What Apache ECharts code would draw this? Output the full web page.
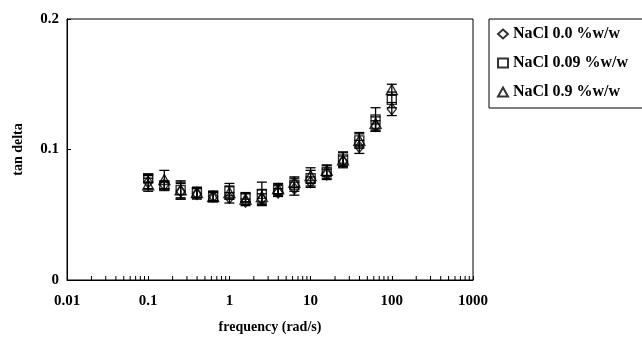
<!DOCTYPE html>
<html>
<head>
<meta charset="utf-8">
<script src="https://cdn.jsdelivr.net/npm/echarts@6/dist/echarts.min.js"></script>
<style>
html, body { margin: 0; padding: 0; background: #fff; }
#chart { width: 642px; height: 339px; }
</style>
</head>
<body>
<div id="chart"></div>
<script>
var freq = [0.1, 0.158, 0.251, 0.398, 0.631, 1, 1.58, 2.51, 3.98, 6.31, 10, 15.8, 25.1, 39.8, 63.1, 100];

var nacl00 = [0.075, 0.073, 0.068, 0.066, 0.064, 0.063, 0.060, 0.062, 0.067, 0.070, 0.075, 0.081, 0.091, 0.102, 0.118, 0.131];
var nacl009 = [0.078, 0.072, 0.069, 0.067, 0.064, 0.068, 0.063, 0.066, 0.069, 0.073, 0.078, 0.083, 0.093, 0.107, 0.123, 0.138];
var nacl09 = [0.073, 0.077, 0.069, 0.067, 0.064, 0.067, 0.062, 0.064, 0.070, 0.075, 0.080, 0.084, 0.092, 0.107, 0.120, 0.146];

// error bar half-widths
var err00 = [0.005, 0.003, 0.006, 0.004, 0.004, 0.004, 0.002, 0.004, 0.003, 0.005, 0.004, 0.004, 0.004, 0.005, 0.004, 0.005];
var err009 = [0.003, 0.003, 0.006, 0.004, 0.003, 0.006, 0.003, 0.009, 0.004, 0.005, 0.006, 0.005, 0.005, 0.005, 0.009, 0.006];
var err09 = [0.005, 0.007, 0.007, 0.004, 0.004, 0.005, 0.005, 0.005, 0.004, 0.004, 0.006, 0.004, 0.006, 0.006, 0.005, 0.004];

var xTickLabels = ['0.01', '0.1', '1', '10', '100', '1000'];
var names = ['NaCl 0.0 %w/w', 'NaCl 0.09 %w/w', 'NaCl 0.9 %w/w'];

var font = 'Liberation Serif';

// minor ticks 2..9 in each decade
var minorTicks = [];
for (var k = -2; k < 3; k++) {
	for (var m = 2; m < 10; m++) {
		minorTicks.push(m * Math.pow(10, k));
	}
}

function pairs(vals) {
	return freq.map(function (f, i) { return [f, vals[i]]; });
}
function bars(vals, errs) {
	return freq.map(function (f, i) { return [f, vals[i] - errs[i], vals[i] + errs[i]]; });
}

function renderErr(params, api) {
	var top = api.coord([api.value(0), api.value(2)]);
	var bot = api.coord([api.value(0), api.value(1)]);
	var w = 5;
	var st = { stroke: '#000', lineWidth: 1.3 };
	return {
		type: 'group',
		children: [
			{ type: 'line', shape: { x1: top[0], y1: top[1], x2: bot[0], y2: bot[1] }, style: st },
			{ type: 'line', shape: { x1: top[0] - w, y1: top[1], x2: top[0] + w, y2: top[1] }, style: st },
			{ type: 'line', shape: { x1: bot[0] - w, y1: bot[1], x2: bot[0] + w, y2: bot[1] }, style: st }
		]
	};
}

function renderMinor(params, api) {
	var p = api.coord([api.value(0), 0]);
	return {
		type: 'line',
		shape: { x1: p[0], y1: p[1], x2: p[0], y2: p[1] - 4 },
		style: { stroke: '#000', lineWidth: 1 }
	};
}

var markerStyle = { color: 'transparent', borderColor: '#000', borderWidth: 1.4 };

var chart = echarts.init(document.getElementById('chart'));

var option = {
	backgroundColor: '#fff',
	animation: false,
	grid: {
		left: 67, right: 169, top: 19, bottom: 56,
		show: true, borderColor: '#000', borderWidth: 1
	},
	legend: {
		orient: 'vertical',
		left: 489, top: 19,
		padding: [7, 30, 8, 8],
		itemGap: 13,
		itemWidth: 10, itemHeight: 9,
		borderColor: '#000', borderWidth: 1,
		data: names,
		textStyle: { fontFamily: font, fontWeight: 'bold', fontSize: 16, color: '#000' }
	},
	xAxis: {
		type: 'log',
		logBase: 10,
		min: 0.01, max: 1000,
		name: 'frequency (rad/s)',
		nameLocation: 'middle',
		nameGap: 40,
		nameTextStyle: { fontFamily: font, fontWeight: 'bold', fontSize: 14, color: '#000' },
		axisLine: { lineStyle: { color: '#000', width: 1 } },
		axisTick: { inside: true, length: 4, lineStyle: { color: '#000' } },
		splitLine: { show: false },
		axisLabel: {
			margin: 14,
			fontFamily: font, fontWeight: 'bold', fontSize: 15, color: '#000',
			formatter: function (v) {
				var i = Math.round(Math.log10(v)) + 2;
				return xTickLabels[i];
			}
		}
	},
	yAxis: {
		type: 'value',
		min: 0, max: 0.2, interval: 0.1,
		name: 'tan delta',
		nameLocation: 'middle',
		nameGap: 42,
		nameTextStyle: { fontFamily: font, fontWeight: 'bold', fontSize: 14, color: '#000' },
		axisLine: { show: true, lineStyle: { color: '#000', width: 1 } },
		axisTick: { show: true, inside: true, length: 4, lineStyle: { color: '#000' } },
		splitLine: { show: false },
		axisLabel: {
			margin: 8,
			fontFamily: font, fontWeight: 'bold', fontSize: 15, color: '#000'
		}
	},
	series: [
		{
			name: 'minor', type: 'custom', silent: true, clip: false,
			renderItem: renderMinor,
			data: minorTicks.map(function (v) { return [v]; })
		},
		{ name: 'err0', type: 'custom', silent: true, renderItem: renderErr, data: bars(nacl00, err00) },
		{ name: 'err1', type: 'custom', silent: true, renderItem: renderErr, data: bars(nacl009, err009) },
		{ name: 'err2', type: 'custom', silent: true, renderItem: renderErr, data: bars(nacl09, err09) },
		{
			name: names[0], type: 'scatter', symbol: 'diamond', symbolSize: [9, 11],
			itemStyle: markerStyle, data: pairs(nacl00)
		},
		{
			name: names[1], type: 'scatter', symbol: 'rect', symbolSize: [9, 9],
			itemStyle: markerStyle, data: pairs(nacl009)
		},
		{
			name: names[2], type: 'scatter', symbol: 'triangle', symbolSize: [11, 10],
			itemStyle: markerStyle, data: pairs(nacl09)
		}
	]
};

chart.setOption(option);
</script>
</body>
</html>
